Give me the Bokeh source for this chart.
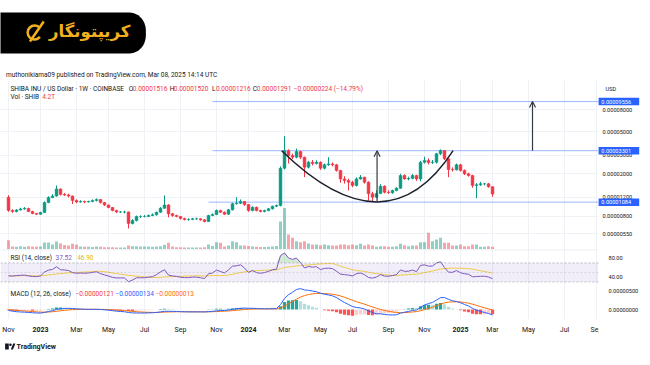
import numpy as np
import pandas as pd
from bokeh.plotting import figure
from bokeh.layouts import column, row
from bokeh.models import (Range1d, LinearScale, FixedTicker, PrintfTickFormatter, Label,
                          Arrow, OpenHead, Span, BoxAnnotation, Grid, ColumnDataSource)
from bokeh.core.properties import value
from bokeh.embed import file_html
from bokeh.resources import INLINE

# ---------------- data (weekly SHIB/USD, prices in 1e-8 USD) ----------------
start_date = "2022-11-07"
first_open_e8 = 1207
close_e8 = [905, 885, 915, 935, 945, 885, 848, 835, 867, 1076,
            1199, 1238, 1442, 1279, 1266, 1238, 1124, 1088, 1099, 1088,
            1099, 1124, 1148, 1076, 1019, 966, 905, 876, 876, 876,
            683, 729, 795, 795, 795, 812, 824, 872, 951, 1021,
            843, 812, 795, 761, 745, 745, 756, 756, 740, 713,
            812, 830, 905, 872, 835, 919, 1046, 1060, 1099, 1028,
            905, 972, 905, 885, 905, 939, 993, 1009, 2261, 3316,
            2975, 2868, 3245, 2868, 2310, 2574, 2502, 2574, 2261, 2433,
            2481, 2433, 2151, 1794, 1732, 1670, 1555, 1794, 1861, 1670,
            1299, 1207, 1307, 1531, 1345, 1327, 1395, 1466, 1930, 1794,
            1809, 1930, 1794, 2574, 2671, 2558, 2574, 3087, 3316, 2770,
            2200, 2184, 2433, 2151, 2003, 1930, 1555, 1578, 1613, 1613,
            1516, 1291]
high_e8 = [1260, 930, 935, 960, 975, 960, 900, 860, 880, 1100,
           1230, 1290, 1555, 1460, 1320, 1300, 1250, 1150, 1130, 1120,
           1120, 1150, 1175, 1160, 1090, 1030, 975, 920, 895, 900,
           885, 750, 810, 815, 820, 830, 850, 885, 975, 1252,
           1040, 860, 825, 805, 775, 765, 770, 775, 765, 750,
           825, 850, 925, 920, 885, 935, 1070, 1207, 1150, 1110,
           1040, 990, 985, 920, 920, 955, 1005, 1030, 2350, 4518,
           3400, 3100, 3450, 3300, 2900, 2650, 2700, 2680, 2620, 2500,
           2868, 2560, 2480, 2180, 1900, 1800, 1720, 1850, 1950, 1880,
           1700, 1360, 1400, 1600, 1560, 1400, 1420, 1500, 2000, 1980,
           1880, 1990, 1960, 2650, 2900, 2800, 2700, 3150, 3400, 3350,
           2800, 2300, 2500, 2480, 2200, 2050, 1960, 1640, 1680, 1640,
           1640, 1520]
low_e8 = [880, 860, 870, 905, 920, 875, 835, 820, 825, 860,
          1060, 1180, 1220, 1250, 1240, 1200, 1040, 1060, 1070, 1060,
          1075, 1080, 1100, 1050, 1000, 950, 890, 860, 860, 850,
          613, 670, 715, 770, 780, 785, 800, 810, 860, 940,
          780, 790, 780, 745, 730, 725, 735, 740, 725, 700,
          705, 800, 820, 860, 820, 825, 905, 1030, 1040, 1000,
          880, 890, 890, 870, 870, 890, 925, 975, 990, 2200,
          2500, 2750, 2800, 2750, 1861, 2250, 2400, 2450, 2180, 2200,
          2380, 2350, 2100, 1650, 1620, 1395, 1500, 1520, 1760, 1620,
          1124, 1099, 1180, 1290, 1310, 1300, 1300, 1370, 1450, 1760,
          1740, 1780, 1720, 1700, 2500, 2450, 2480, 2500, 3000, 2700,
          1861, 2100, 2150, 2100, 1950, 1880, 1480, 1180, 1540, 1560,
          1480, 1216]
volume_T = [14.4, 4.7, 4.2, 5.1, 4.2, 5.1, 4.7, 4.2, 4.7, 10.9,
            10.9, 7.8, 12.4, 9.3, 7.0, 6.2, 8.8, 7.3, 4.7, 4.2,
            4.2, 3.9, 4.7, 4.2, 3.6, 3.6, 3.6, 3.1, 3.1, 3.1,
            6.2, 5.1, 5.1, 4.7, 4.7, 4.7, 4.2, 4.7, 5.1, 7.3,
            10.4, 4.7, 3.6, 3.6, 3.1, 3.1, 3.1, 3.1, 3.1, 3.6,
            7.8, 5.4, 11.3, 10.4, 4.7, 6.2, 12.9, 11.3, 6.2, 6.2,
            5.4, 4.7, 4.2, 3.9, 3.9, 4.2, 4.7, 5.4, 43.4, 64.5,
            23.3, 18.1, 12.9, 11.3, 12.9, 9.3, 7.8, 7.8, 6.7, 7.8,
            6.7, 6.2, 6.2, 7.8, 7.8, 6.7, 7.8, 6.7, 8.8, 6.2,
            7.8, 6.2, 4.2, 5.1, 5.1, 4.2, 4.2, 5.1, 8.8, 6.7,
            5.1, 6.2, 6.2, 11.3, 11.3, 25.9, 12.9, 15.5, 18.1, 10.4,
            10.4, 6.2, 6.2, 7.8, 5.1, 5.1, 7.8, 7.8, 4.2, 4.2,
            5.1, 4.2]

tick_dates = ["2022-11-07", "2023-01-02", "2023-03-06", "2023-05-01", "2023-07-03",
              "2023-09-04", "2023-11-06", "2024-01-01", "2024-03-04", "2024-05-06",
              "2024-07-01", "2024-09-02", "2024-11-04", "2025-01-06", "2025-03-03",
              "2025-05-05", "2025-07-07", "2025-09-01"]
tick_labels = ["Nov", "2023", "Mar", "May", "Jul", "Sep", "Nov", "2024", "Mar", "May",
               "Jul", "Sep", "Nov", "2025", "Mar", "May", "Jul", "Sep"]
price_ticks = [0.0000055, 0.000008, 0.000012, 0.00002, 0.00003, 0.00005, 0.00008]
rsi_ticks = [40, 80]
macd_ticks = [0.0, 0.000005]

level_prices = [0.00009556, 0.00003301, 0.00001084]
level_labels = ["0.00009556", "0.00003301", "0.00001084"]
level_starts = ["2023-10-30", "2023-10-30", "2023-10-23"]
cup_dates = ["2024-02-28", "2024-08-30", "2024-12-24"]      # left, control, right
cup_prices = [0.00003301, 0.0000036, 0.00003301]
arrow_dates = ["2024-08-13", "2025-05-12"]
arrow_from = [0.00001084, 0.00003301]
arrow_to = [0.00003301, 0.00009556]

# ---------------- styling ----------------
W = 650
RB = 52
FONT = "Roboto"
DARK = "#131722"
GREEN = "#089981"
RED = "#f23645"
BLUE = "#2962ff"
ORANGE = "#ff6d00"
PURPLE = "#7e57c2"
YELLOW = "#fdd835"
GRID = "#eef1f6"
WEEK_MS = 7 * 24 * 3600 * 1000

dates = pd.date_range(start_date, periods=len(close_e8), freq="7D")
close = np.array(close_e8) * 1e-8
open_ = np.r_[first_open_e8, close_e8[:-1]] * 1e-8
high = np.array(high_e8) * 1e-8
low = np.array(low_e8) * 1e-8
up = close >= open_
ccol = np.where(up, GREEN, RED)

# indicators computed from the closes
chg = np.diff(np.r_[open_[0], close])
seed = np.mean(np.abs(chg[1:15]))
ag = al = seed
rsi = []
for d in chg:
    ag = (ag * 13 + max(d, 0)) / 14
    al = (al * 13 + max(-d, 0)) / 14
    rsi.append(100 * ag / (ag + al))
rsi = np.array(rsi)
rsi_ma = pd.Series(rsi).rolling(14, min_periods=1).mean().values
s = pd.Series(np.r_[open_[0], close])
ema12 = s.ewm(span=12, adjust=False).mean().values[1:]
ema26 = s.ewm(span=26, adjust=False).mean().values[1:]
macd = ema12 - ema26
signal = pd.Series(np.r_[0.0, macd]).ewm(span=9, adjust=False).mean().values[1:]
hist = macd - signal
prev = np.r_[0.0, hist[:-1]]
hcol = np.where(hist >= 0, np.where(hist > prev, "#26a69a", "#b2dfdb"),
                np.where(hist < prev, "#ff5252", "#ffcdd2"))

src = ColumnDataSource(dict(date=dates, open=open_, close=close, high=high, low=low,
                            top=np.maximum(open_, close), bottom=np.minimum(open_, close),
                            color=ccol, vol=volume_T, rsi=rsi, rsi_ma=rsi_ma,
                            ob=np.maximum(rsi, 70), macd=macd, signal=signal, hist=hist,
                            hcol=hcol))

x0 = pd.Timestamp(start_date) - pd.Timedelta(days=14)
xr = Range1d(start=x0, end=x0 + pd.Timedelta(days=7 * 149.5))
tick_ms = [pd.Timestamp(d).value // 10**6 for d in tick_dates]


def base_fig(h, y_range, width=W, right=RB, axis="right", **kw):
    f = figure(width=width, height=h, x_range=xr, y_range=y_range, x_axis_location=None,
               y_axis_location=axis, output_backend="svg", toolbar_location=None,
               min_border_left=0, min_border_right=right, min_border_top=0, min_border_bottom=0,
               outline_line_color=None, background_fill_color="white",
               border_fill_color="white", **kw)
    f.grid.visible = False
    f.add_layout(Grid(dimension=0, ticker=FixedTicker(ticks=tick_ms), grid_line_color=GRID))
    if axis is not None:
        ax = f.yaxis[0]
        ax.axis_line_color = None
        ax.major_tick_line_color = None
        ax.minor_tick_line_color = None
        ax.major_label_text_font = FONT
        ax.major_label_text_font_size = "5.6px"
        ax.major_label_text_color = DARK
        ax.major_label_standoff = 4
    return f


def lab(f, text, x, y, color=DARK, size="6.5px", **kw):
    f.add_layout(Label(x=x, y=y, x_units="screen", y_units="screen", text=text,
                       text_color=color, text_font=FONT, text_font_size=size,
                       text_baseline="middle", **kw))


# ---------------- header ----------------
head = figure(width=W, height=80, x_range=Range1d(0, 650), y_range=Range1d(80, 0),
              x_axis_location=None, y_axis_location=None, output_backend="svg",
              toolbar_location=None, min_border=0, outline_line_color=None)
head.grid.visible = False
r = 18
t = np.linspace(0, np.pi / 2, 12)
px = np.r_[-20, 158 - r + r * np.sin(t), 158 - r + r * np.cos(t), -20]
py = np.r_[12, 12 + r - r * np.cos(t), 53 - r + r * np.sin(t), 53]
head.patch(px, py, fill_color="black", line_color=None)
head.arc(x=[37], y=[32], radius=7.5, start_angle=0.7, end_angle=5.6, line_color="#f2b01e",
         line_width=2.5)
head.segment(x0=[32], y0=[41], x1=[47], y1=[21], line_color="#f2b01e", line_width=2.5)
head.text(x=[97], y=[31], text=["کریپتونگار"], text_font=value("DejaVu Sans"),
          text_font_style="bold", text_font_size="16.5px", text_color="#f2b01e",
          text_align="center", text_baseline="middle")
head.text(x=[6], y=[74], text=["muthonikiama09 published on TradingView.com, Mar 08, 2025 14:14 UTC"],
          text_font=value(FONT), text_font_size="6.5px", text_color=DARK,
          text_baseline="middle")

# ---------------- price pane ----------------
PH = 169
price_range = Range1d(3.891e-6, 1.508e-4)
pp = base_fig(PH, price_range, width=598, right=0, axis=None, y_axis_type="log")
pp.add_layout(Grid(dimension=1, ticker=FixedTicker(ticks=price_ticks), grid_line_color=GRID))
pp.extra_y_ranges = {"vol": Range1d(0, 262)}
pp.extra_y_scales = {"vol": LinearScale()}
pp.vbar(x="date", top="vol", bottom=0, width=WEEK_MS * 0.75, y_range_name="vol",
        fill_color="color", fill_alpha=0.45, line_color=None, source=src)
pp.segment(x0=pd.to_datetime(level_starts), y0=level_prices,
           x1=[pd.Timestamp("2026-12-01")] * 3, y1=level_prices,
           line_color=BLUE, line_alpha=0.45, line_width=1)
pp.segment(x0="date", y0="high", x1="date", y1="low", line_color="color", line_width=1,
           source=src)
pp.vbar(x="date", top="top", bottom="bottom", width=WEEK_MS * 0.7, fill_color="color",
        line_color="color", line_width=0.5, source=src)
cup = ColumnDataSource(dict(x0=[pd.Timestamp(cup_dates[0])], y0=[cup_prices[0]],
                            cx=[pd.Timestamp(cup_dates[1])], cy=[cup_prices[1]],
                            x1=[pd.Timestamp(cup_dates[2])], y1=[cup_prices[2]]))
pp.quadratic(x0="x0", y0="y0", x1="x1", y1="y1", cx="cx", cy="cy", source=cup,
             line_color="#1e222d", line_width=1.5)
for d, a, b in zip(arrow_dates, arrow_from, arrow_to):
    xm = pd.Timestamp(d).value // 10**6
    pp.add_layout(Arrow(x_start=xm, y_start=a, x_end=xm, y_end=b, line_color="#363a45",
                        line_width=1.2,
                        end=OpenHead(size=6, line_color="#363a45", line_width=1.2)))
hy = 160.7
lab(pp, "SHIBA INU / US Dollar · 1W · COINBASE", 10, hy)
for letter, lx, val, vx in [("O", 128.3, "0.00001516", 132.3), ("H", 169.3, "0.00001520", 173.3),
                            ("L", 211.5, "0.00001216", 215.5), ("C", 252.3, "0.00001291", 256.3)]:
    lab(pp, letter, lx, hy)
    lab(pp, val, vx, hy, color=RED)
lab(pp, "−0.00000224 (−14.79%)", 293.3, hy, color=RED)
lab(pp, "Vol · SHIB", 10, 152.3)
lab(pp, "4.2T", 41.7, 152.3, color=RED)

# price scale (right of the price pane), drawn on the same log scale
pax = figure(width=RB, height=PH, x_range=Range1d(598, 650), y_range=price_range,
             y_axis_type="log", x_axis_location=None, y_axis_location=None,
             output_backend="svg", toolbar_location=None, min_border=0,
             outline_line_color=None)
pax.grid.visible = False
pax.text(x=602, y=price_ticks, text=[f"{v:.8f}" for v in price_ticks],
         text_font=value(FONT), text_font_size="5.6px", text_color=DARK,
         text_baseline="middle")
pax.rect(x=618.2, y=level_prices, width=41, height=7.5, height_units="screen",
         fill_color=BLUE, line_color=None)
pax.text(x=600.8, y=level_prices, text=level_labels, text_font=value(FONT),
         text_font_size="5.6px", text_color="white", text_baseline="middle")
lab(pax, "USD", 7, 160.7, size="5.6px")

# ---------------- RSI pane ----------------
rp = base_fig(35, Range1d(24.6, 98.3))
rp.yaxis[0].ticker = FixedTicker(ticks=rsi_ticks)
rp.yaxis[0].formatter = PrintfTickFormatter(format="%.2f")
rp.add_layout(BoxAnnotation(bottom=30, top=70, fill_color=PURPLE, fill_alpha=0.1, line_color=None))
rp.add_layout(Span(location=97.8, dimension="width", line_color="#e0e3eb", line_width=1))
for loc, alpha in [(70, 0.8), (50, 0.4), (30, 0.8)]:
    rp.add_layout(Span(location=loc, dimension="width", line_color="#9598a1",
                       line_alpha=alpha, line_dash="2 2", line_width=0.8))
rp.varea(x="date", y1=70, y2="ob", fill_color="#4caf50", fill_alpha=0.25, source=src)
rp.line(x="date", y="rsi_ma", line_color=YELLOW, line_width=1, source=src)
rp.line(x="date", y="rsi", line_color=PURPLE, line_width=1, source=src)
lab(rp, "RSI (14, close)", 10, 26.7)
lab(rp, "37.52", 55, 26.7, color=PURPLE)
lab(rp, "46.90", 76.7, 26.7, color="#e6b800")

# ---------------- MACD pane ----------------
mp = base_fig(35, Range1d(-2.63e-6, 6.58e-6))
mp.yaxis[0].ticker = FixedTicker(ticks=macd_ticks)
mp.yaxis[0].formatter = PrintfTickFormatter(format="%.8f")
mp.vbar(x="date", top="hist", bottom=0, width=WEEK_MS * 0.8, fill_color="hcol",
        line_color=None, source=src)
mp.line(x="date", y="signal", line_color=ORANGE, line_width=1, source=src)
mp.line(x="date", y="macd", line_color=BLUE, line_width=1, source=src)
lab(mp, "MACD (12, 26, close)", 10, 25.7)
lab(mp, "−0.00000121", 75, 25.7, color=RED)
lab(mp, "−0.00000134", 115, 25.7, color=BLUE)
lab(mp, "−0.00000013", 155, 25.7, color=ORANGE)

# ---------------- time axis ----------------
tp = figure(width=W, height=19, x_range=xr, y_range=Range1d(338, 319), x_axis_location=None,
            y_axis_location=None, output_backend="svg", toolbar_location=None,
            min_border_left=0, min_border_right=RB, min_border_top=0, min_border_bottom=0,
            outline_line_color=None)
tp.grid.visible = False
is_year = [lbl.isdigit() for lbl in tick_labels]
tdt = pd.to_datetime(tick_dates)
tp.text(x=[d for d, y in zip(tdt, is_year) if not y],
        y=329, text=[l for l, y in zip(tick_labels, is_year) if not y],
        text_font=value(FONT), text_font_size="7px", text_color=DARK,
        text_align="center", text_baseline="middle")
tp.text(x=[d for d, y in zip(tdt, is_year) if y],
        y=329, text=[l for l, y in zip(tick_labels, is_year) if y],
        text_font=value(FONT), text_font_size="7px", text_font_style="bold", text_color=DARK,
        text_align="center", text_baseline="middle")

# ---------------- footer ----------------
fp = figure(width=W, height=27, x_range=Range1d(0, 650), y_range=Range1d(365, 338),
            x_axis_location=None, y_axis_location=None, output_backend="svg",
            toolbar_location=None, min_border=0, outline_line_color=None)
fp.grid.visible = False
fp.quad(left=[5], right=[9], top=[343], bottom=[349], fill_color=DARK, line_color=None)
fp.scatter(x=[10.8], y=[344.2], size=2.6, fill_color=DARK, line_color=None)
fp.patch([11.2, 13.8, 16.2, 13.6], [349, 343, 343, 349], fill_color=DARK, line_color=None)
fp.text(x=[17.5], y=[346], text=["TradingView"], text_font=value(FONT), text_font_size="7px",
        text_font_style="bold", text_color=DARK, text_baseline="middle")

layout = column(head, row(pp, pax, spacing=0), rp, mp, tp, fp, spacing=0)
open("out.html", "w").write(file_html(layout, INLINE))
